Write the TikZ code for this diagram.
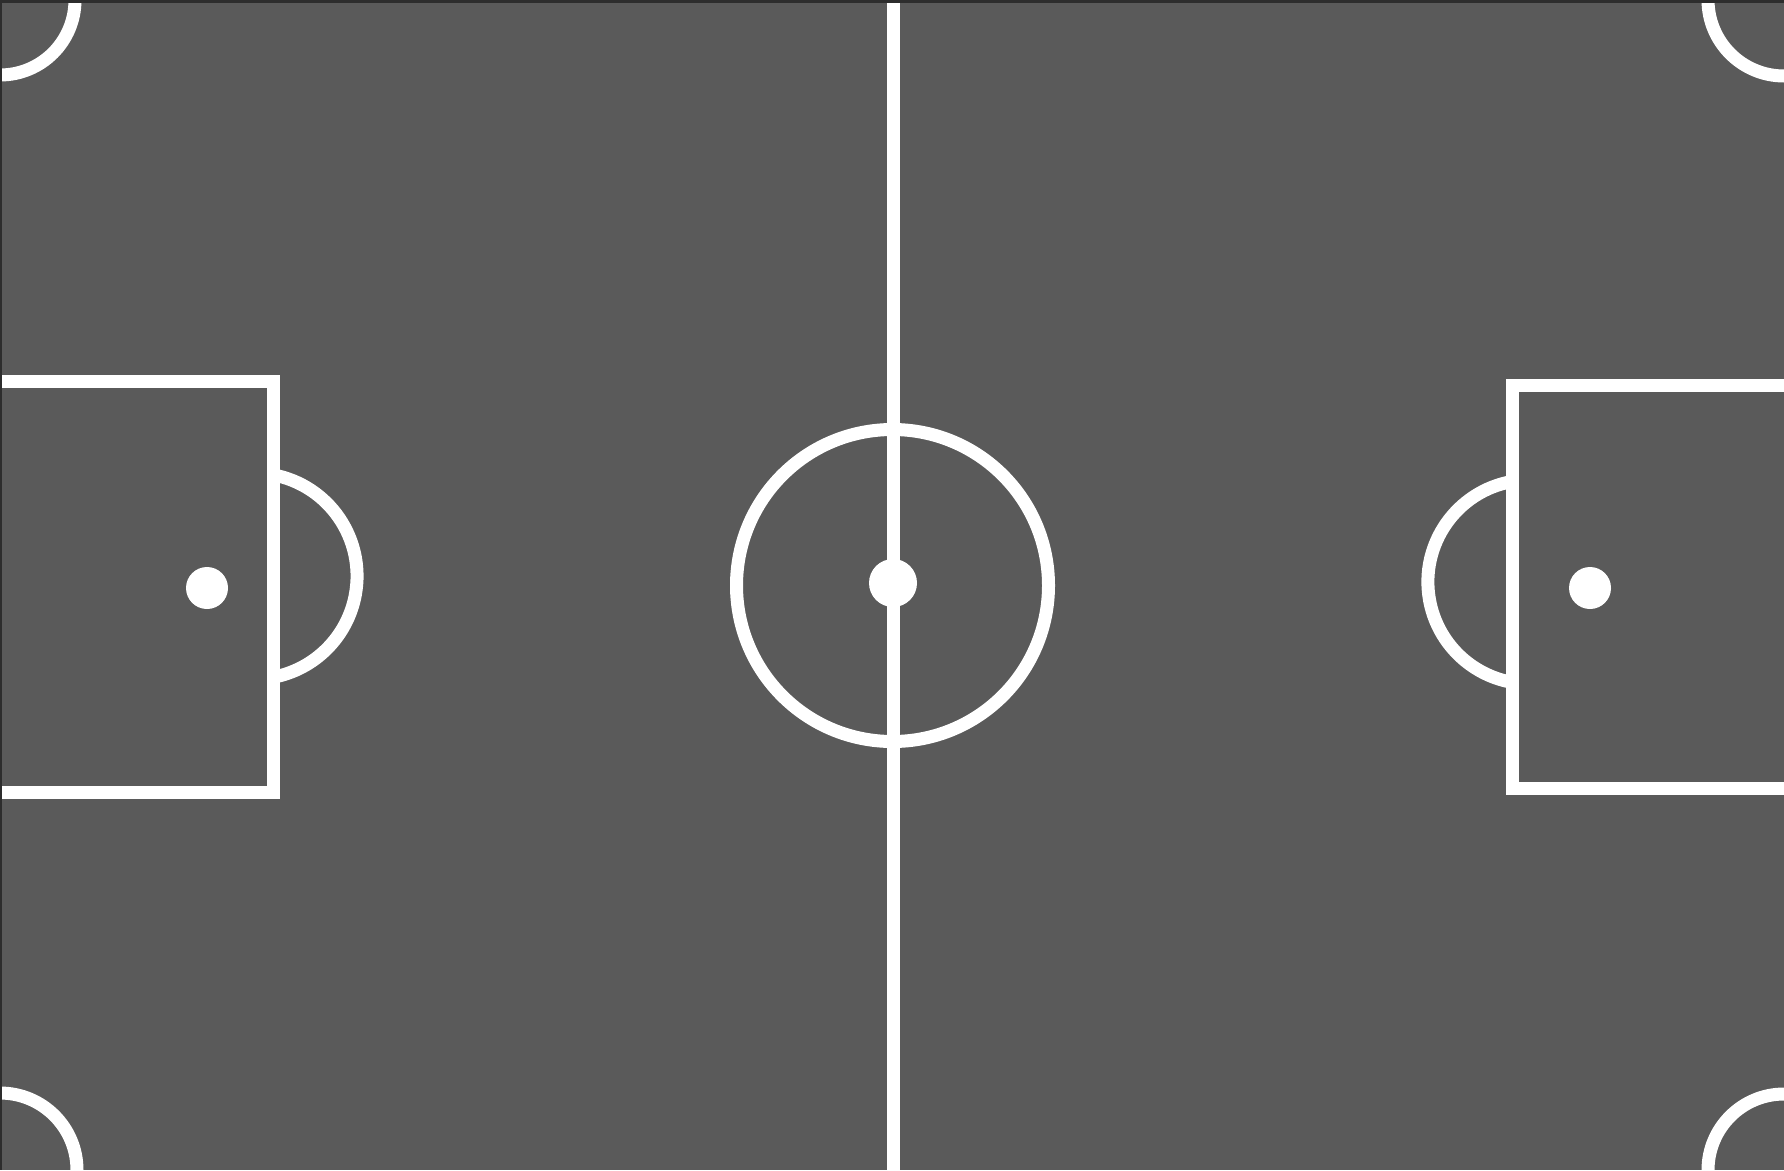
\documentclass[tikz,border=0pt]{standalone}
\usetikzlibrary{calc}
\definecolor{board}{RGB}{90,90,90}
\definecolor{edge}{RGB}{45,45,45}
\tikzset{
  chalk/.style={draw=white, line width=13pt},
  spot/.style={fill=white},
}
\begin{document}
\begin{tikzpicture}[x=1pt,y=-1pt]
\useasboundingbox (0,0) rectangle (1784,1170);
\clip (0,0) rectangle (1784,1170);
\fill[board] (0,0) rectangle (1784,1170);
% corner arcs
\draw[chalk] (0,0) circle[radius=75];
\draw[chalk] (1784,0) circle[radius=76];
\draw[chalk] (0,1170) circle[radius=77];
\draw[chalk] (1784,1170) circle[radius=76];
% halfway line and centre circle
\draw[chalk] (893,-10) -- (893,1180);
\draw[chalk] (892.5,585.5) circle[radius=156];
\fill[spot] (893,583) circle[radius=24];
% left penalty area
\draw[chalk] (-10,381) -- (273,381) -- (273,792) -- (-10,792);
\draw[chalk] (273,474.8) arc[start angle=-79.4, end angle=79.4, radius=103];
\fill[spot] (207,588) circle[radius=21];
% right penalty area
\draw[chalk] (1794,385) -- (1512,385) -- (1512,788) -- (1794,788);
\draw[chalk] (1512,481.5) arc[start angle=-100.1, end angle=-259.9, radius=102];
\fill[spot] (1590,588) circle[radius=21];
% dark frame at top and left
\fill[edge] (0,0) rectangle (1784,2.5);
\fill[edge] (0,0) rectangle (1.5,1170);
\end{tikzpicture}
\end{document}
